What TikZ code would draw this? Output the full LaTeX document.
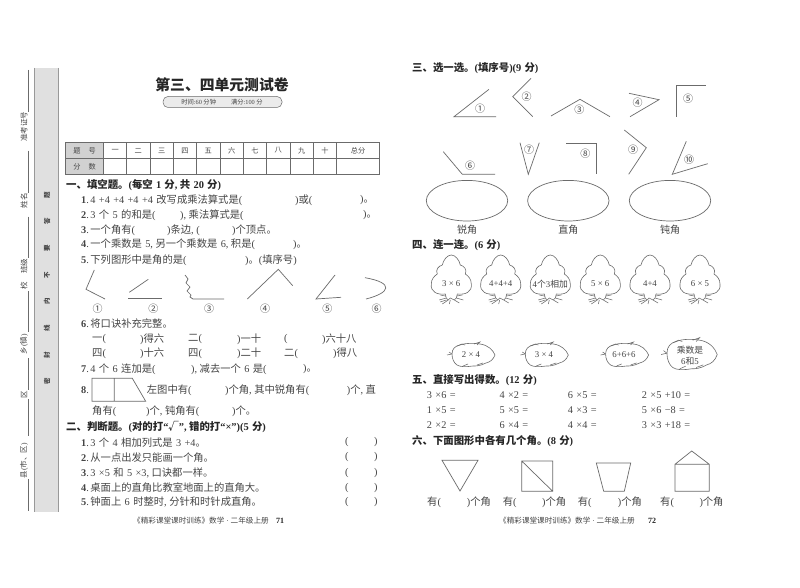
\documentclass[tikz,border=0pt]{standalone}
\usepackage{fontspec}
\setmainfont{Liberation Serif}
\newfontfamily\cjk{Noto Sans CJK SC}
\newXeTeXintercharclass\cjkclass
\newcount\cc
\newcommand\setcjk[2]{\cc=#1 \loop\XeTeXcharclass\cc=\cjkclass\ifnum\cc<#2 \advance\cc by 1 \repeat}
\setcjk{"4E00}{"9FFF}
\setcjk{"3000}{"303F}
\setcjk{"FF00}{"FFEF}
\setcjk{"2460}{"24FF}
\XeTeXcharclass"221A=\cjkclass
\XeTeXinterchartoks 0 \cjkclass={\begingroup\cjk}
\XeTeXinterchartoks 4095 \cjkclass={\begingroup\cjk}
\XeTeXinterchartoks \cjkclass 0={\endgroup}
\XeTeXinterchartoks \cjkclass 4095={\endgroup}
\definecolor{ink}{gray}{0.27}
\definecolor{line}{gray}{0.42}
\newcount\tn
\newcommand\wsp[1]{\spaceskip #1pt\relax}
\newcommand\T[3]{\global\advance\tn by 1 \node[txt] (t\the\tn) at (#1,#2) {#3};}
\newcommand\B[3]{\global\advance\tn by 1 \node[txt,text=black!85,font=\fontsize{10.4}{12}\selectfont\bfseries\wsp{3.2}] (t\the\tn) at (#1,#2) {#3};}
\newcommand\C[3]{\global\advance\tn by 1 \node[ctr] (t\the\tn) at (#1,#2) {#3};}
\newcommand\N[1]{\textbf{#1}.\kern1.5pt\relax}
\newcommand\cma{,\kern2.5pt\relax}
\tikzset{
 txt/.style={anchor=west,inner sep=0pt,text=ink,font=\fontsize{10.3}{12}\selectfont\wsp{3.4}},
 ctr/.style={anchor=center,inner sep=0pt,text=ink,font=\fontsize{10}{12}\selectfont},
 side/.style={anchor=center,inner sep=0pt,rotate=90,text=ink,font=\fontsize{7.5}{9}\selectfont},
 shp/.style={draw=line,line width=0.7pt,line join=miter},
 tree/.pic={
  \draw[draw=line,line width=0.6pt] (-6,10) .. controls (-14,11) and (-21,8) .. (-20,0)
   .. controls (-20,-5) and (-17,-8) .. (-14,-10) .. controls (-16,-14) and (-13,-18) .. (-9,-19)
   .. controls (-8,-24) and (-4,-29) .. (0,-29)
   .. controls (4,-29) and (8,-24) .. (9,-19) .. controls (13,-18) and (16,-14) .. (14,-10)
   .. controls (17,-8) and (20,-5) .. (20,0) .. controls (21,8) and (14,11) .. (6,10);
  \draw[draw=line,line width=0.55pt] (-6,10) -- (-5,14) -- (-12,16) (-5,14) -- (-3,16) -- (-9,20)
   (-5,16) -- (-11,18) (6,10) -- (5,14) -- (12,16) (5,14) -- (3,16) -- (8,19) (3,16) -- (-1,14) -- (-3,16)
   (-1,16) -- (-2,20) (6,12) -- (11,11) (-6,12) -- (-11,11);
 },
 leaf/.pic={
  \draw[draw=line,line width=0.6pt] (-18,-1) .. controls (-18,-6) and (-15,-9) .. (-10,-10)
   .. controls (-5,-12) and (3,-12) .. (10,-11) .. controls (18,-10) and (23,-5) .. (25,0)
   .. controls (23,5) and (20,7) .. (16,8) .. controls (10,11) and (6,11) .. (3,11)
   .. controls (-4,12) and (-10,12) .. (-13,10) .. controls (-16,8) and (-18,4) .. (-18,-1);
  \draw[draw=line,line width=0.55pt] (-18,-1) -- (-23,0) (-18,-1) -- (-21,-3)
   (-13,-9) -- (-8,-11) -- (-5,-10) (4,-11) -- (10,-13) -- (7,-10) (-7,11) -- (-2,9) (7,10) -- (13,8) ;
 }
}
\begin{document}
\begin{tikzpicture}[x=1pt,y=-1pt]
\XeTeXinterchartokenstate=1
\useasboundingbox (0,0) rectangle (800,588);
\fill[white] (0,0) rectangle (800,588);
% side strip
\fill[black!12] (34.5,68) rectangle (58.5,512);
\draw[draw=black!40,line width=1pt] (34.5,68) -- (34.5,512) (58.5,68) -- (58.5,512);
\foreach \yy/\ch in {195/题,221.7/答,248.3/要,275/不,301.7/内,328/线,355/封,381.7/密}{
 \node[side,font=\fontsize{6.5}{7}\selectfont\bfseries] at (47,\yy) {\ch};}
\foreach \ya/\yb in {70/112,150.7/192.7,216.7/258.3,291/331.7,358.3/390,399.3/435.7,479/511}{
 \draw[draw=line,line width=0.7pt] (28,\ya) -- (28,\yb);}
\node[side] (s1) at (24,126.7) {准考证号};
\node[side] (s2) at (24,200.7) {姓名};
\node[side] (s3) at (24,266) {班级};
\node[side] (s4) at (24,286) {校};
\node[side] (s5) at (24,344) {乡(镇)};
\node[side] (s6) at (24,395) {区};
\node[side] (s7) at (24,460.7) {县(市、区)};
% title
\node[inner sep=0pt,text=black!85,font=\fontsize{14.8}{16}\selectfont\bfseries] (title) at (222,85) {第三、四单元测试卷};
\draw[draw=line,fill=black!8,line width=0.5pt,rounded corners=5pt] (163,96.5) rectangle (282,107.5);
\node[inner sep=0pt,text=ink,font=\fontsize{6.3}{7}\selectfont] (time) at (222,102) {时间:60 分钟\hspace{15pt}满分:100 分};
% table
\fill[black!18] (65.3,142.3) rectangle (103.7,174);
\draw[draw=line,line width=0.5pt] (65.3,142.3) rectangle (379.3,174) (65.3,158.3) -- (379.3,158.3);
\foreach \xx in {103.7,126.7,150,173.3,196.7,220,243.3,266.7,290,313.3,336.7}{\draw[draw=line,line width=0.5pt] (\xx,142.3) -- (\xx,174);}
\tikzset{tb/.style={anchor=center,inner sep=0pt,text=ink,font=\fontsize{7.2}{8}\selectfont}}
\node[tb] (h0) at (84.5,150.5) {题\hspace{8pt}号};
\node[tb] (h00) at (84.5,166.5) {分\hspace{8pt}数};
\foreach \xx/\ch in {115.2/一,138.3/二,161.7/三,185/四,208.3/五,231.7/六,255/七,278.3/八,301.7/九,325/十,358/总分}{\node[tb] at (\xx,150.5) {\ch};}
% section one
\B{66}{184.7}{一、填空题。(每空 1 分\cma 共 20 分)}
\T{81}{200}{\N{1}4 +4 +4 +4 +4 改写成乘法算式是(}
\T{295}{200}{)或(}
\T{360}{200}{)。}
\T{81}{215}{\N{2}3 个 5 的和是(}
\T{180}{215}{)\cma 乘法算式是(}
\T{363}{215}{)。}
\T{81}{230}{\N{3}一个角有(}
\T{167}{230}{)条边\cma (}
\T{232}{230}{)个顶点。}
\T{81}{244.7}{\N{4}一个乘数是 5\cma 另一个乘数是 6\cma 积是(}
\T{293}{244.7}{)。}
\T{81}{260}{\N{5}下列图形中是角的是(}
\T{245}{260}{)。(填序号)}
% angle figures left
\draw[shp] (94.3,270) -- (86,289.3) -- (105,299);
\draw[shp] (148.3,279.3) -- (129.3,292.3);
\draw[shp,line width=1pt] (128.3,298.7) -- (161.7,298.7);
\draw[shp] (185,275) -- (188,279) -- (186,283) -- (190,287) -- (187,291) -- (191,295) -- (190,297) -- (193,299) -- (224,299);
\draw[shp] (247.3,299) -- (278.3,269.3) -- (292.7,285.7);
\draw[shp] (335,275) -- (316,299) -- (341,297.3);
\draw[shp] (365,277.7) .. controls (395,283) and (390,293) .. (366,299);
\foreach \xx/\ch in {97.7/①,153.3/②,209/③,265/④,327.3/⑤,376.7/⑥}{\node[ctr] at (\xx,309) {\ch};}
\T{81}{323.7}{\N{6}将口诀补充完整。}
\T{92}{339}{一(} \T{140}{339}{)得六} \T{188}{339}{二(} \T{237}{339}{)一十} \T{284}{339}{(} \T{322}{339}{)六十八}
\T{92}{353.7}{四(} \T{140}{353.7}{)十六} \T{188}{353.7}{四(} \T{237}{353.7}{)二十} \T{284}{353.7}{二(} \T{333}{353.7}{)得八}
\T{81}{369.3}{\N{7}4 个 6 连加是(}
\T{191}{369.3}{)\cma 减去一个 6 是(}
\T{303}{369.3}{)。}
\T{81}{390}{\N{8}}
\draw[shp] (92,378.3) -- (132.3,378.3) -- (145.7,401.3) -- (92,401.3) -- cycle (114.3,378.3) -- (114.3,401.3);
\T{146.7}{390}{左图中有(}
\T{225}{390}{)个角\cma 其中锐角有(}
\T{346.7}{390}{)个\cma 直}
\T{92}{411.7}{角有(}
\T{146}{411.7}{)个\cma 钝角有(}
\T{232}{411.7}{)个。}
\B{66}{427}{二、判断题。(对的打“√”\cma 错的打“×”)(5 分)}
\T{81}{442.3}{\N{1}3 个 4 相加列式是 3 +4。}
\T{81}{457.3}{\N{2}从一点出发只能画一个角。}
\T{81}{472.7}{\N{3}3 ×5 和 5 ×3\cma 口诀都一样。}
\T{81}{487.7}{\N{4}桌面上的直角比教室地面上的直角大。}
\T{81}{502}{\N{5}钟面上 6 时整时\cma 分针和时针成直角。}
\foreach \yy in {442.3,457.3,472.7,487.7,502}{\node[txt] at (345,\yy) {(}; \node[txt] at (374,\yy) {)};}
\node[anchor=west,inner sep=0pt,text=ink,font=\fontsize{7.6}{9}\selectfont] (f1) at (133,521) {《精彩课堂课时训练》数学 · 二年级上册};
\node[anchor=west,inner sep=0pt,text=black!85,font=\fontsize{8}{9}\selectfont\bfseries] (f2) at (276,521) {71};
% section three
\B{412}{68.3}{三、选一选。(填序号)(9 分)}
\draw[shp] (489,89.3) -- (454,116.7) -- (496,116.7);
\draw[shp] (531,78.3) -- (512.7,96.7) -- (532.7,116.7);
\draw[shp] (551,116) -- (580,99.3) -- (610,116.7);
\draw[shp] (629,93.3) -- (659,99.7) -- (630,116.7);
\draw[shp] (676,116.7) -- (676,85.7) -- (706,85.7);
\draw[shp] (443.3,151.7) -- (462.3,174.3) -- (495,174.3);
\draw[shp] (520,142.7) -- (528.3,174.3) -- (539.3,142.7);
\draw[shp] (566.3,143.7) -- (596.3,143.7) -- (596.3,174.3);
\draw[shp] (624.3,130) -- (646.3,147.7) -- (628.7,174.3);
\draw[shp] (686.3,141.3) -- (672.3,174.3) -- (707.7,163.7);
\foreach \xx/\yy/\ch in {480/108.3/①,526.7/96.7/②,579.3/110/③,637.7/102.7/④,688/98.3/⑤,470/165.7/⑥,529/150/⑦,585.3/154/⑧,633/150/⑨,689/159.3/⑩}{\node[ctr] at (\xx,\yy) {\ch};}
\foreach \xx in {467,568.3,670}{\draw[shp] (\xx,200.7) ellipse [x radius=40.7,y radius=20.3];}
\C{467}{230}{锐角} \C{568.3}{230}{直角} \C{670}{230}{钝角}
% section four
\B{412}{245.3}{四、连一连。(6 分)}
\foreach \xx in {451.3,500.7,550.3,600.3,650,700}{\pic at (\xx,284) {tree};}
\tikzset{sm/.style={ctr,font=\fontsize{8.8}{10}\selectfont}}
\node[sm] (a1) at (451.3,284) {3 × 6};
\node[sm] (a2) at (500.7,284) {4+4+4};
\node[sm] (a3) at (550.3,284) {4个3相加};
\node[sm] (a4) at (600.3,284) {5 × 6};
\node[sm] (a5) at (650,284) {4+4};
\node[sm] (a6) at (700,284) {6 × 5};
\pic at (470,355) {leaf};
\pic at (543.3,355) {leaf};
\pic at (623.6,355) {leaf};
\pic[xscale=1.17,yscale=1.3] at (688,354.5) {leaf};
\node[sm] (b1) at (471,355) {2 × 4};
\node[sm] (b2) at (544,355) {3 × 4};
\node[sm] (b3) at (624,355) {6+6+6};
\node[sm] (b4) at (690,350) {乘数是};
\node[sm] (b5) at (690,360.7) {6和5};
% section five
\B{412}{380}{五、直接写出得数。(12 分)}
\T{426.7}{395}{3 ×6 =} \T{499.3}{395}{4 ×2 =} \T{567.7}{395}{6 ×5 =} \T{641.7}{395}{2 ×5 +10 =}
\T{426.7}{410.3}{1 ×5 =} \T{499.3}{410.3}{5 ×5 =} \T{567.7}{410.3}{4 ×3 =} \T{641.7}{410.3}{5 ×6 −8 =}
\T{426.7}{425.3}{2 ×2 =} \T{499.3}{425.3}{6 ×4 =} \T{567.7}{425.3}{4 ×4 =} \T{641.7}{425.3}{3 ×3 +18 =}
% section six
\B{412}{441}{六、下面图形中各有几个角。(8 分)}
\draw[shp] (442,460.3) -- (478,460.3) -- (460,491) -- cycle;
\draw[shp] (521.7,461) rectangle (552.7,491.3) (521.7,461) -- (552.7,491.3);
\draw[shp] (596.3,463) -- (630.7,463) -- (624.3,491.3) -- (603.7,491.3) -- cycle;
\draw[shp] (675,464.3) rectangle (709.3,491.3) (675,464.3) -- (691.7,451) -- (709.3,464.3);
\T{427}{502.7}{有(} \T{466.7}{502.7}{)个角}
\T{502.7}{502.7}{有(} \T{542}{502.7}{)个角}
\T{577.7}{502.7}{有(} \T{617.7}{502.7}{)个角}
\T{660}{502.7}{有(} \T{699.3}{502.7}{)个角}
\node[anchor=west,inner sep=0pt,text=ink,font=\fontsize{7.6}{9}\selectfont] (f3) at (499,521) {《精彩课堂课时训练》数学 · 二年级上册};
\node[anchor=west,inner sep=0pt,text=black!85,font=\fontsize{8}{9}\selectfont\bfseries] (f4) at (648,521) {72};
\end{tikzpicture}
\end{document}
